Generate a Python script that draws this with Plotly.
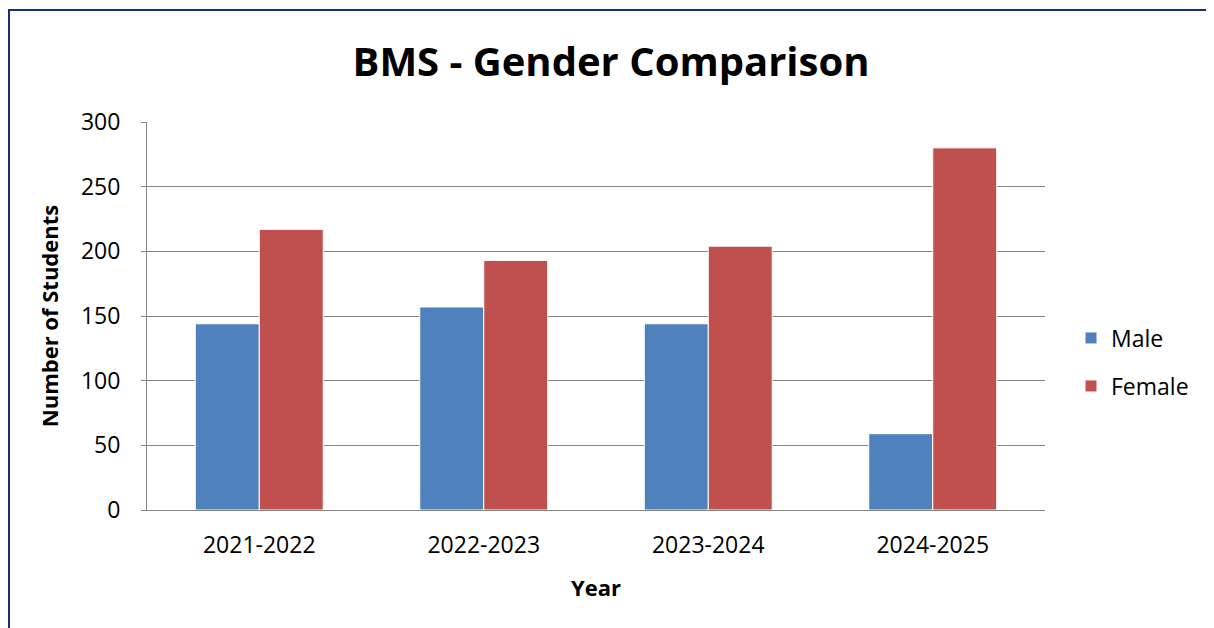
import plotly.graph_objects as go

years = ["2021-2022", "2022-2023", "2023-2024", "2024-2025"]
male = [144, 157, 144, 59]
female = [217, 193, 204, 280]

OFF = 8  # page body margin
W, H = 1214 - OFF, 628 - OFF
# plot area in screenshot pixels
X0, X1, Y0, Y1 = 147, 1045, 122, 510
L, R = X0 - OFF, W - (X1 - OFF)
T, B = Y0 - OFF, H - (Y1 - OFF)
pw, ph = X1 - X0, Y1 - Y0

def px(x):
    return (x - X0) / pw

def py(y):
    return (Y1 - y) / ph

font = "Open Sans, Calibri, Liberation Sans, sans-serif"

fig = go.Figure()
fig.add_trace(go.Bar(name="Male", x=years, y=male, legend="legend",
                     marker=dict(color="#4F81BD", line=dict(color="white", width=1))))
fig.add_trace(go.Bar(name="Female", x=years, y=female, legend="legend2",
                     marker=dict(color="#C0504D", line=dict(color="white", width=1))))

leg = dict(xanchor="left", yanchor="middle", font=dict(size=23, family=font, color="black"), itemwidth=30,
           bgcolor="rgba(0,0,0,0)")

fig.update_layout(
    width=W, height=H,
    margin=dict(l=L, r=R, t=T, b=B),
    paper_bgcolor="white", plot_bgcolor="white",
    barmode="group", bargap=0.43, bargroupgap=0,
    font=dict(family=font, color="black", size=23),
    title=dict(text="<b>BMS - Gender Comparison</b>", x=0.5, xanchor="center", y=1 - (62 - OFF) / H, yanchor="middle",
               font=dict(size=40, family=font, color="black")),
    showlegend=True,
    legend=dict(x=px(1071), y=py(338), **leg),
    legend2=dict(x=px(1071), y=py(386), **leg),
    xaxis=dict(showline=True, linecolor="#868686", linewidth=1, ticks="", tickfont=dict(size=23),
               ticklabelstandoff=14,
               title=dict(text="<b>Year</b>", font=dict(size=22), standoff=22)),
    yaxis=dict(range=[0, 300], dtick=50, showgrid=True, gridcolor="#868686", gridwidth=1,
               showline=True, linecolor="#868686", linewidth=1, ticks="outside", ticklen=5, tickcolor="#868686",
               tickfont=dict(size=23), zeroline=False, ticklabelstandoff=16,
               title=dict(text="<b>Number of Students</b>", font=dict(size=22), standoff=16)),
    shapes=[dict(type="rect", xref="paper", yref="paper", x0=px(9), x1=px(1240), y0=py(660), y1=py(10),
                 line=dict(color="#14306E", width=2), fillcolor="rgba(0,0,0,0)", layer="below")],
)
fig.write_html("out.html")
